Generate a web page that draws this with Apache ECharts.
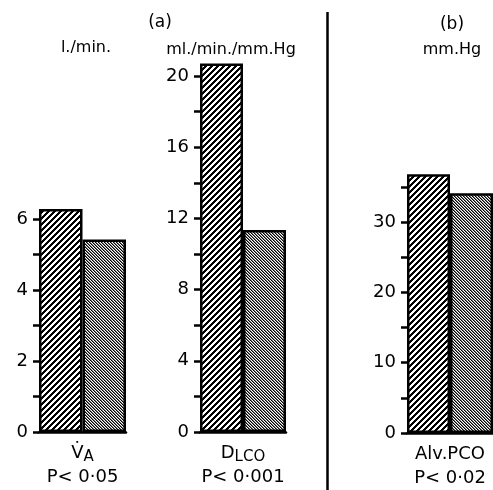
<!DOCTYPE html>
<html>
<head>
<meta charset="utf-8">
<script src="https://cdn.jsdelivr.net/npm/echarts@6/dist/echarts.min.js"></script>
<style>
html,body{margin:0;padding:0;background:#fff;}
#chart{width:493px;height:490px;}
</style>
</head>
<body>
<div id="chart"></div>
<script>
// ---- data ----
const categories = ['V̇A', 'DLCO', 'Alv.PCO'];
const labelMain = ['V̇', 'D', 'Alv.PCO'];
const labelSub = ['A', 'LCO', ''];
const pValues = ['P< 0·05', 'P< 0·001', 'P< 0·02'];
const seriesA = [6.28, 20.7, 36.8];   // coarse hatched bars
const seriesB = [5.42, 11.35, 34.1];  // fine hatched bars
const yMax = [7, 22, 40];
const tickValues = [
  [0, 1, 2, 3, 4, 5, 6],
  [0, 2, 4, 6, 8, 10, 12, 14, 16, 18, 20],
  [0, 5, 10, 15, 20, 25, 30, 35]
];
const labelValues = [
  [0, 2, 4, 6],
  [0, 4, 8, 12, 16, 20],
  [0, 10, 20, 30]
];
const units = ['l./min.', 'ml./min./mm.Hg', 'mm.Hg'];
const panelTitles = ['(a)', '(b)'];

// ---- styling ----
const FONT = 'DejaVu Sans';
// pixel-exact diagonal hatch tile
function hatch(shades, dir) {
  const p = shades.length;
  const c = document.createElement('canvas');
  c.width = p; c.height = p;
  const ctx = c.getContext('2d');
  for (let y = 0; y < p; y++) {
    for (let x = 0; x < p; x++) {
      const k = dir === '/' ? (x + y) % p : ((x - y) % p + p) % p;
      ctx.fillStyle = shades[k];
      ctx.fillRect(x, y, 1, 1);
    }
  }
  return c;
}
const patA = { image: hatch(['#000', '#000', '#000', '#fff', '#fff', '#fff'], '/'), repeat: 'repeat' };
const patB = { image: hatch(['#000', '#777', '#fff'], '\\'), repeat: 'repeat' };

const grids = [
  { left: 39, width: 87, top: 183.5, height: 248.5 },
  { left: 200, width: 86, top: 40.4, height: 391.6 },
  { left: 407, width: 92, top: 151.8, height: 281.2 }
];

const xAxes = [], yAxes = [], series = [];
for (let i = 0; i < 3; i++) {
  xAxes.push({
    type: 'category', gridIndex: i, data: [categories[i]],
    axisLine: { lineStyle: { color: '#000', width: 2.5 } },
    axisTick: { show: false },
    axisLabel: {
      margin: 9,
      formatter: () => '{m|' + labelMain[i] + '}' + (labelSub[i] ? '{s|' + labelSub[i] + '}' : '') + '\n{p|' + pValues[i] + '}',
      rich: {
        m: { fontFamily: FONT, fontSize: 18, color: '#000', lineHeight: 24 },
        s: { fontFamily: FONT, fontSize: 15, color: '#000', lineHeight: 24, padding: [8, 0, 0, 0] },
        p: { fontFamily: FONT, fontSize: 18, color: '#000', lineHeight: 24 }
      }
    }
  });
  yAxes.push({
    type: 'value', gridIndex: i, min: 0, max: yMax[i],
    axisLine: { show: false },
    splitLine: { show: false },
    axisTick: { show: true, length: 6, customValues: tickValues[i], lineStyle: { color: '#000', width: 2.5 } },
    axisLabel: { customValues: labelValues[i], color: '#000', fontFamily: FONT, fontSize: 18, margin: 11 }
  });
  series.push({
    type: 'bar', xAxisIndex: i, yAxisIndex: i, data: [seriesA[i]],
    barGap: '0%', barCategoryGap: '0%', clip: false,
    itemStyle: { color: patA, borderColor: '#000', borderWidth: 2.5 }
  });
  series.push({
    type: 'bar', xAxisIndex: i, yAxisIndex: i, data: [seriesB[i]],
    barGap: '0%', barCategoryGap: '0%', clip: false,
    itemStyle: { color: patB, borderColor: '#000', borderWidth: 2.5 }
  });
}

const txt = (s, x, y, size) => ({
  type: 'text', x: x, y: y,
  style: { text: s, fill: '#000', font: size + 'px "' + FONT + '"', textAlign: 'center', textVerticalAlign: 'middle' }
});

const chart = echarts.init(document.getElementById('chart'), null, { renderer: 'canvas' });
chart.setOption({
  backgroundColor: '#fff',
  animation: false,
  grid: grids,
  xAxis: xAxes,
  yAxis: yAxes,
  series: series,
  graphic: [
    txt(panelTitles[0], 160, 23, 17),
    txt(panelTitles[1], 452, 25, 17),
    txt(units[0], 86, 48, 16),
    txt(units[1], 231, 50, 16),
    txt(units[2], 452, 50, 16),
    { type: 'line', shape: { x1: 327.5, y1: 12, x2: 327.5, y2: 490 }, style: { stroke: '#000', lineWidth: 2.5 } }
  ]
});
</script>
</body>
</html>
